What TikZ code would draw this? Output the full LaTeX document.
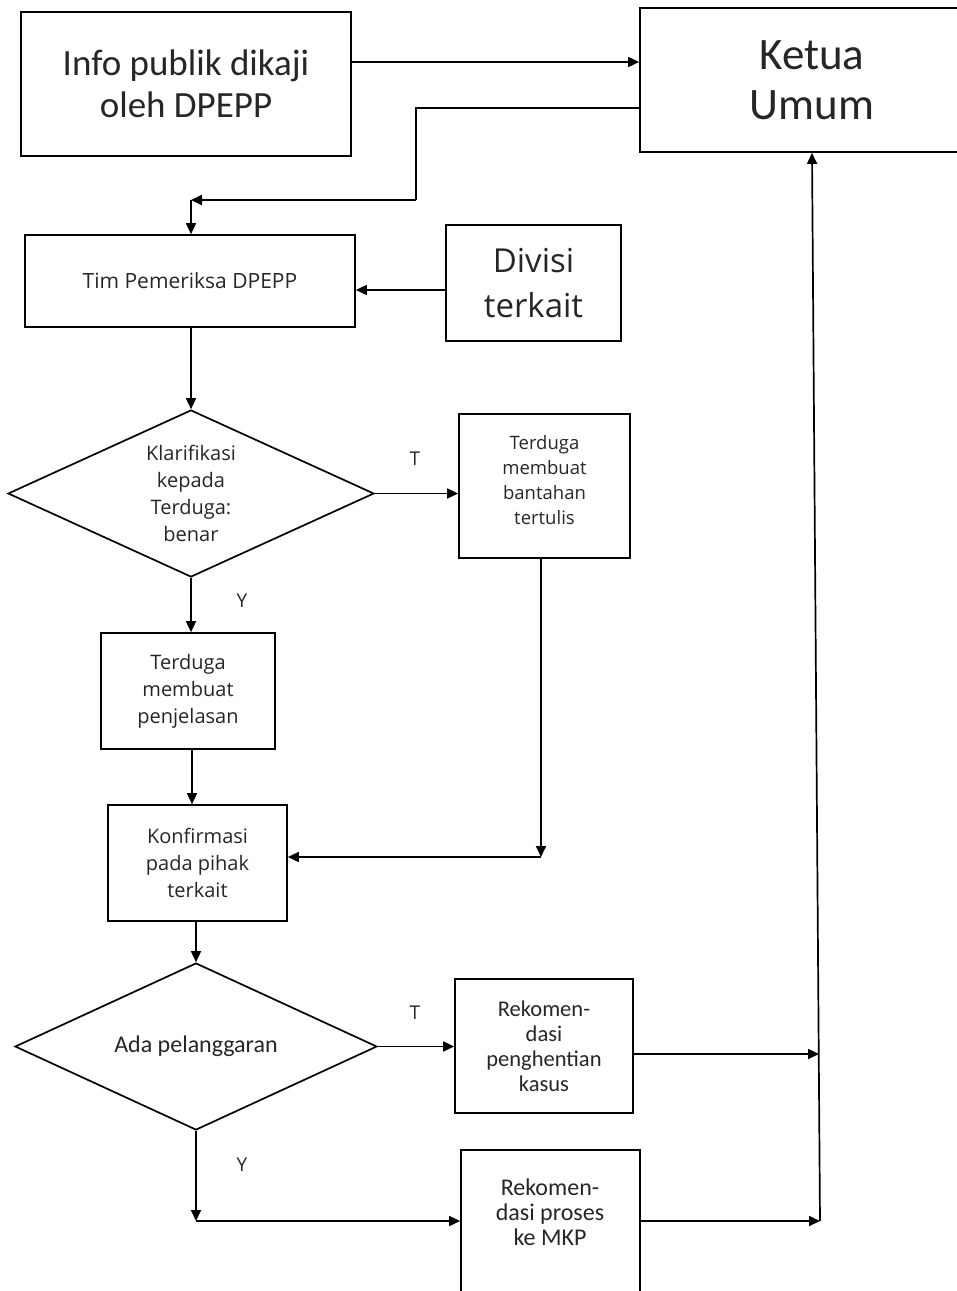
\documentclass[tikz,border=0pt]{standalone}
\usepackage{fontspec}
\setmainfont{Open Sans}
\newfontfamily\calib{Carlito}
\usetikzlibrary{arrows.meta,shapes.geometric}

\tikzset{
  box/.style={draw, line width=1.7pt, inner sep=0pt, align=center, text=black!85},
  decision/.style={draw, diamond, aspect=2.19, line width=1.7pt, inner sep=0pt, align=center, text=black!85},
  conn/.style={line width=1.7pt},
  arr/.style={conn, -{Triangle[length=11pt,width=10pt]}},
  yn/.style={font=\fontsize{19}{21}\selectfont, text=black!85},
  small/.style={font=\fontsize{20}{27}\selectfont},
  big/.style={font=\calib\fontsize{37}{42}\selectfont},
}

\begin{document}
\begin{tikzpicture}[x=1pt,y=-1pt]
\useasboundingbox (0,0) rectangle (957,1291);

% boxes
\node[box, big, minimum width=330, minimum height=144] (info) at (186,84) {Info publik dikaji\\oleh DPEPP};
\node[box, font=\calib\fontsize{45}{50}\selectfont, minimum width=344, minimum height=144] (ketua) at (812,80) {Ketua\\Umum};
\node[box, font=\fontsize{21}{27}\selectfont, minimum width=330, minimum height=92] (tim) at (190,281) {Tim Pemeriksa DPEPP};
\node[box, font=\fontsize{33}{45}\selectfont, minimum width=175, minimum height=116] (divisi) at (533.5,283) {Divisi\\terkait};

\node[decision, small, minimum width=366, minimum height=167] (d1) at (191,493.5) {Klarifikasi\\kepada\\Terduga:\\benar};
\node[box, minimum width=171, minimum height=144] (bantah) at (544.5,486) {};
\node[align=center, inner sep=0pt, text=black!85, font=\fontsize{18.5}{25}\selectfont] (bantahtext) at (544.5,480) {Terduga\\membuat\\bantahan\\tertulis};

\node[box, small, minimum width=174, minimum height=116] (penj) at (188,691) {Terduga\\membuat\\penjelasan};
\node[box, small, minimum width=179, minimum height=116] (konf) at (197.5,863) {Konfirmasi\\pada pihak\\terkait};

\node[decision, font=\calib\fontsize{24}{26}\selectfont, minimum width=362, minimum height=167] (d2) at (196,1046.5) {Ada pelanggaran};
\node[box, font=\calib\fontsize{22.5}{25}\selectfont, minimum width=178, minimum height=134] (henti) at (544,1046) {Rekomen-\\dasi\\penghentian\\kasus};

\node[box, minimum width=179, minimum height=160] (mkp) at (550.5,1230) {};
\node[align=center, inner sep=0pt, text=black!85, font=\calib\fontsize{24}{25}\selectfont] (mkptext) at (550,1212) {Rekomen-\\dasi proses\\ke MKP};

% labels on the decision branches
\node[yn] (t1) at (415,459) {T};
\node[yn] (y1) at (242,601) {Y};
\node[yn] (t2) at (415,1013) {T};
\node[yn] (y2) at (242,1165) {Y};

% junction points
\coordinate (k1) at (416,108);
\coordinate (k2) at (416,200);
\coordinate (k3) at (191,200);
\coordinate (b1) at (541,857);
\coordinate (m1) at (196,1221);
\coordinate (j1) at (819,1054);
\coordinate (j2) at (820,1221);

% connectors
\draw[arr] (info.east |- 0,62) -- (ketua.west |- 0,62);
\draw[conn] (ketua.west |- k1) -- (k1) -- (k2);
\draw[arr] (k2) -- (k3);
\draw[arr] (k3) -- (tim.north -| k3);
\draw[arr] (divisi.west |- 0,290) -- (tim.east |- 0,290);
\draw[arr] (tim.south -| d1.north) -- (d1.north);
\draw[arr] (d1.east) -- (bantah.west |- d1.east);
\draw[arr] (bantah.south -| b1) -- (b1);
\draw[arr] (b1) -- (konf.east |- b1);
\draw[arr] (d1.south) -- (penj.north -| d1.south);
\draw[arr] (penj.south -| 192,0) -- (konf.north -| 192,0);
\draw[arr] (konf.south -| d2.north) -- (d2.north);
\draw[arr] (d2.east) -- (henti.west |- d2.east);
\draw[arr] (henti.east |- j1) -- (j1);
\draw[arr] (d2.south) -- (m1);
\draw[arr] (m1) -- (mkp.west |- m1);
\draw[arr] (mkp.east |- j2) -- (j2);
\draw[arr] (j2) -- (ketua.south -| 812,0);
\end{tikzpicture}
\end{document}
